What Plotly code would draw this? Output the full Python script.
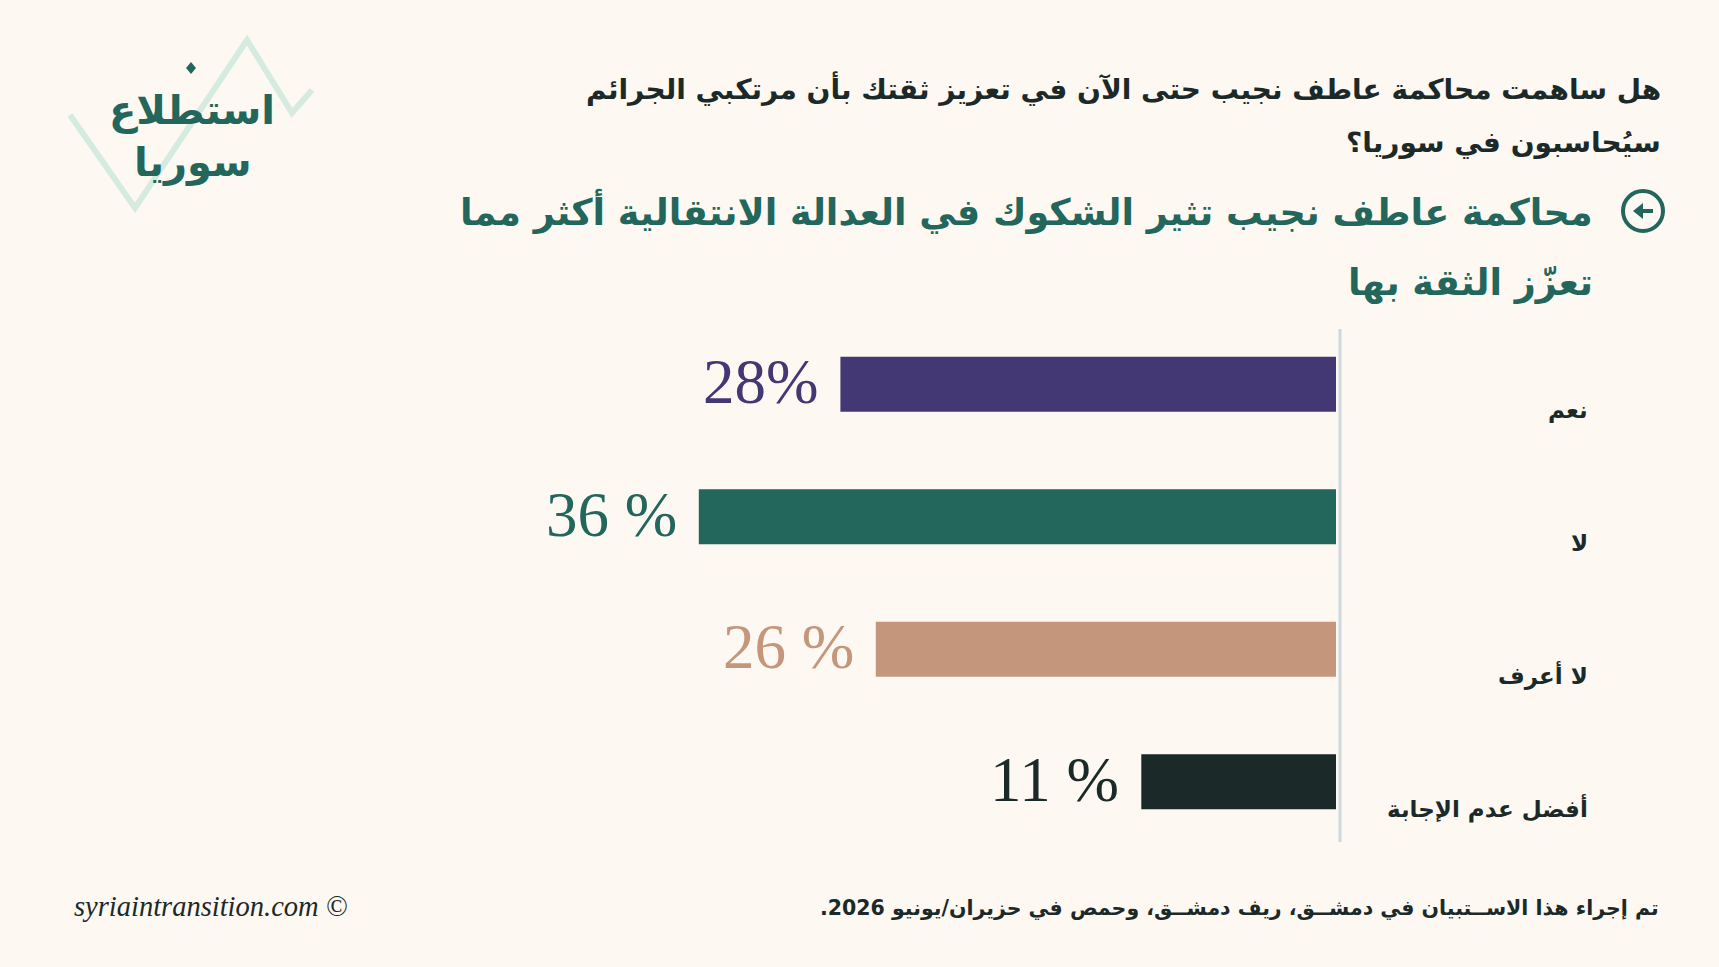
import plotly.graph_objects as go

# survey answers
categories = ["نعم", "لا", "لا أعرف", "أفضل عدم الإجابة"]
values = [28, 36, 26, 11]
value_labels = ["28%", "36 %", "26 %", "11 %"]

question = [
    "هل ساهمت محاكمة عاطف نجيب حتى الآن في تعزيز ثقتك بأن مرتكبي الجرائم",
    "سيُحاسبون في سوريا؟",
]
headline = [
    "محاكمة عاطف نجيب تثير الشكوك في العدالة الانتقالية أكثر مما",
    "تعزّز الثقة بها",
]
logo = ["استطلاع", "سوريا"]
footnote = "تم إجراء هذا الاســتبيان في دمشــق، ريف دمشــق، وحمص في حزيران/يونيو 2026.\u200f"
credit = "syriaintransition.com ©"

BAR_COLORS = ["#443874", "#23665b", "#c4977c", "#1b2a29"]
GREEN = "#23665b"
DARK = "#1b2a29"
BG = "#fdf8f2"
AR_FONT = "DejaVu Sans"

# plot area in pixels
FW, FH = 1719, 967
L, R, T, B = 500, 1336, 318, 848
W, H = R - L, B - T


def px(x):
    return (x - L) / W


def py(y):
    return (B - y) / H


fig = go.Figure(go.Bar(
    x=values,
    y=categories,
    orientation="h",
    width=0.414,
    marker=dict(color=BAR_COLORS, line=dict(width=0)),
    hoverinfo="skip",
))

annotations = []
for cat, val, lab, col in zip(categories, values, value_labels, BAR_COLORS):
    annotations.append(dict(
        x=val, y=cat, xref="x", yref="y", text=lab, showarrow=False,
        xanchor="right", yanchor="middle", xshift=-20, yshift=2,
        font=dict(family="Liberation Serif", size=63, color=col),
    ))
    annotations.append(dict(
        x=0, y=cat, xref="x", yref="y", text=cat, showarrow=False,
        xanchor="right", yanchor="middle", xshift=254, yshift=-26,
        font=dict(family=AR_FONT, size=23, color=DARK, weight="bold"),
    ))

for line, y in zip(question, [88, 143]):
    annotations.append(dict(
        x=px(1663), y=py(y), xref="paper", yref="paper", text=line,
        showarrow=False, xanchor="right", yanchor="middle",
        font=dict(family=AR_FONT, size=28, color=DARK, weight="bold"),
    ))

for line, y in zip(headline, [211, 283]):
    annotations.append(dict(
        x=px(1595), y=py(y), xref="paper", yref="paper", text=line,
        showarrow=False, xanchor="right", yanchor="middle",
        font=dict(family=AR_FONT, size=36.6, color=GREEN, weight="bold"),
    ))

for line, y in zip(logo, [110, 162]):
    annotations.append(dict(
        x=px(192), y=py(y), xref="paper", yref="paper", text=line,
        showarrow=False, xanchor="center", yanchor="middle",
        font=dict(family=AR_FONT, size=40, color=GREEN, weight="bold"),
    ))

annotations.append(dict(
    x=px(1661), y=py(908), xref="paper", yref="paper", text=footnote,
    showarrow=False, xanchor="right", yanchor="middle",
    font=dict(family=AR_FONT, size=20.5, color=DARK, weight="bold"),
))
annotations.append(dict(
    x=px(72), y=py(906), xref="paper", yref="paper", text=credit,
    showarrow=False, xanchor="left", yanchor="middle",
    font=dict(family="Liberation Serif", size=28.5, color=DARK, style="italic"),
))

# logo zigzag
zig = [(70, 115), (135, 208), (247, 40), (292, 113), (312, 90)]
path = "M " + " L ".join(f"{px(x)},{py(y)}" for x, y in zig)

shapes = [
    dict(type="path", path=path, xref="paper", yref="paper",
         line=dict(color="#d6ebe0", width=6), layer="below"),
    # small diamond over the logo
    dict(type="path", xref="paper", yref="paper",
         path=f"M {px(191)},{py(62)} L {px(196)},{py(68)} L {px(191)},{py(74)} L {px(186)},{py(68)} Z",
         fillcolor=GREEN, line=dict(width=0)),
    # axis line
    dict(type="line", xref="paper", yref="paper",
         x0=px(1340), x1=px(1340), y0=py(842), y1=py(329),
         line=dict(color="#cdd7de", width=3)),
    # headline icon: circle with arrow
    dict(type="circle", xref="paper", yref="paper",
         x0=px(1623), x1=px(1663), y0=py(231), y1=py(191),
         line=dict(color=GREEN, width=4)),
    dict(type="path", xref="paper", yref="paper",
         path=f"M {px(1633)},{py(211)} L {px(1643)},{py(203)} L {px(1643)},{py(219)} Z",
         fillcolor=GREEN, line=dict(width=0)),
    dict(type="line", xref="paper", yref="paper",
         x0=px(1641), x1=px(1653), y0=py(211), y1=py(211),
         line=dict(color=GREEN, width=4)),
]

fig.update_layout(
    width=FW, height=FH,
    margin=dict(l=L, r=FW - R, t=T, b=FH - B),
    paper_bgcolor=BG, plot_bgcolor=BG,
    showlegend=False,
    xaxis=dict(range=[W / 17.7, 0], showgrid=False, zeroline=False,
               showticklabels=False, fixedrange=True),
    yaxis=dict(type="category", autorange="reversed", showgrid=False,
               zeroline=False, showticklabels=False, fixedrange=True),
    annotations=annotations,
    shapes=shapes,
)

fig.write_html(
    "out.html",
    config={"displayModeBar": False},
    post_script="document.body.style.margin='0';document.body.style.overflow='hidden';",
)
